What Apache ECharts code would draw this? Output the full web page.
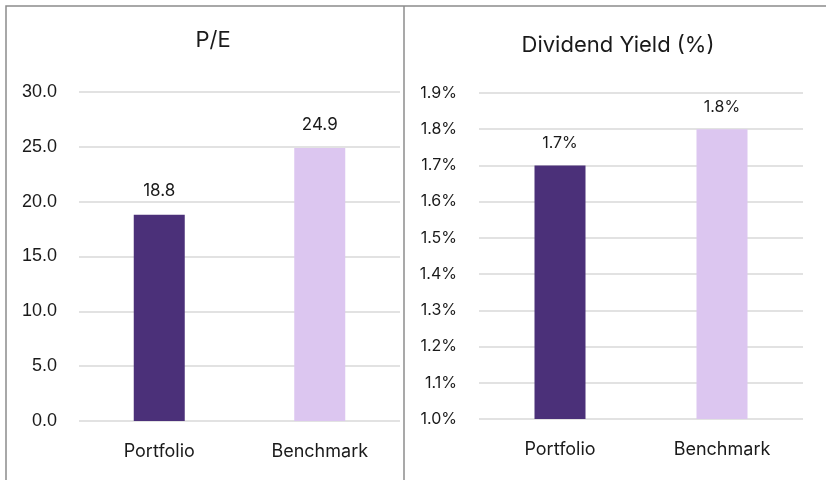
<!DOCTYPE html>
<html>
<head>
<meta charset="utf-8">
<script src="https://cdn.jsdelivr.net/npm/echarts@6/dist/echarts.min.js"></script>
<style>
  html, body { margin: 0; padding: 0; background: #fff; }
  #main { width: 826px; height: 480px; }
</style>
</head>
<body>
<div id="main"></div>
<script>
// data
var categories = ['Portfolio', 'Benchmark'];
var peValues = [18.8, 24.9];
var yieldValues = [1.7, 1.8];

var barColors = ['#4b3079', '#dcc6f0'];
var txt = '#1a1a1a';
var labelFont = 'Inter, "Open Sans", sans-serif';

var chart = echarts.init(document.getElementById('main'));

function coloredData(vals) {
    return vals.map(function (v, i) {
        return { value: v, itemStyle: { color: barColors[i] } };
    });
}

var option = {
    backgroundColor: '#fff',
    animation: false,
    title: [{
        text: 'P/E',
        left: 208, top: 24,
        textAlign: 'center',
        textStyle: { fontFamily: labelFont, fontSize: 22, fontWeight: 'normal', color: txt }
    }, {
        text: 'Dividend Yield (%)',
        left: 613, top: 29,
        textAlign: 'center',
        textStyle: { fontFamily: labelFont, fontSize: 22, fontWeight: 'normal', color: txt }
    }],
    grid: [
        { left: 79, right: 426, top: 92, bottom: 59 },
        { left: 479, right: 23, top: 93, bottom: 61 }
    ],
    xAxis: [0, 1].map(function (i) {
        return {
            type: 'category',
            gridIndex: i,
            data: categories,
            axisLine: { show: false },
            axisTick: { show: false },
            axisLabel: { color: txt, fontFamily: labelFont, fontSize: 18, margin: 22 }
        };
    }),
    yAxis: [{
        type: 'value',
        gridIndex: 0,
        min: 0, max: 30, interval: 5,
        axisLine: { show: false },
        axisTick: { show: false },
        axisLabel: {
            color: txt, fontFamily: '"Liberation Sans", Arial, sans-serif', fontSize: 18, margin: 22,
            formatter: function (v) { return v.toFixed(1); }
        },
        splitLine: { lineStyle: { color: '#d9d9d9', width: 1.5 } }
    }, {
        type: 'value',
        gridIndex: 1,
        min: 1.0, max: 1.9, interval: 0.1,
        axisLine: { show: false },
        axisTick: { show: false },
        axisLabel: {
            color: txt, fontFamily: labelFont, fontSize: 16, margin: 22,
            formatter: function (v) { return v.toFixed(1) + '%'; }
        },
        splitLine: { lineStyle: { color: '#d9d9d9', width: 1.5 } }
    }],
    series: [{
        type: 'bar',
        xAxisIndex: 0, yAxisIndex: 0,
        barWidth: 51,
        data: coloredData(peValues),
        label: {
            show: true, position: 'top', distance: 15,
            color: txt, fontFamily: labelFont, fontSize: 17,
            formatter: function (p) { return p.value.toFixed(1); }
        }
    }, {
        type: 'bar',
        xAxisIndex: 1, yAxisIndex: 1,
        barWidth: 51,
        data: coloredData(yieldValues),
        label: {
            show: true, position: 'top', distance: 14,
            color: txt, fontFamily: labelFont, fontSize: 16,
            formatter: function (p) { return p.value.toFixed(1) + '%'; }
        }
    }],
    graphic: [{
        type: 'polyline',
        shape: { points: [[6, 480], [6, 6], [826, 6]] },
        style: { stroke: '#8c8c8c', lineWidth: 1.5, fill: null }
    }, {
        type: 'line',
        shape: { x1: 404, y1: 6, x2: 404, y2: 480 },
        style: { stroke: '#8c8c8c', lineWidth: 1.5 }
    }]
};

chart.setOption(option);
</script>
</body>
</html>
